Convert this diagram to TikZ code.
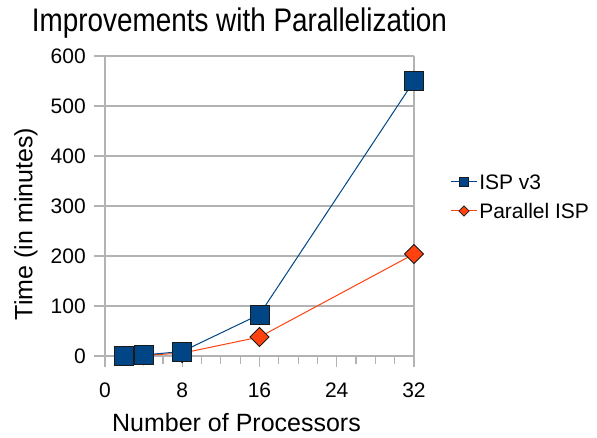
\documentclass[tikz,border=0pt]{standalone}
\usepackage{fontspec}
\setmainfont{Liberation Sans}
\usetikzlibrary{shapes.geometric}
\definecolor{ispblue}{HTML}{004586}
\definecolor{parorange}{HTML}{FF420E}
\definecolor{gridgray}{HTML}{B3B3B3}
\definecolor{markborder}{HTML}{1A1A1A}
\begin{document}
\begin{tikzpicture}[x=0.75pt,y=-0.75pt,
  gridline/.style={draw=gridgray, line width=0.9pt},
  sq/.style={rectangle, draw=markborder, fill=ispblue, minimum size=14.25pt, inner sep=0pt, line width=0.6pt},
  dm/.style={diamond, draw=markborder, fill=parorange, minimum size=14.5pt, inner sep=0pt, line width=0.6pt},
  lsq/.style={sq, minimum size=7pt},
  ldm/.style={dm, minimum size=8pt},
  ispline/.style={draw=ispblue, line width=0.75pt},
  parline/.style={draw=parorange, line width=0.75pt},
  ticklab/.style={font=\fontsize{15.75pt}{18pt}\selectfont, inner sep=0pt},
  axlab/.style={font=\fontsize{18.75pt}{22pt}\selectfont, inner sep=0pt},
  titlelab/.style={font=\fontsize{24.5pt}{28pt}\selectfont, inner sep=0pt}]
\useasboundingbox[fill=white] (0,0) rectangle (597,438);

% title
\node[titlelab, anchor=base] (title) at (239.5,32) {\scalebox{0.853}[1]{Improvements with Parallelization}};

% horizontal grid lines and y labels
\foreach \v in {0,...,6} {
  \pgfmathsetmacro{\yy}{356-50*\v}
  \draw[gridline] (94,\yy) -- (414,\yy);
}
\foreach \v/\t in {0/0,1/100,2/200,3/300,4/400,5/500,6/600} {
  \pgfmathsetmacro{\yy}{356-50*\v}
  \node[ticklab, anchor=east] (ylab\v) at (86,\yy) {\t};
}
% axis and right border
\draw[gridline] (105,56) -- (105,367);
\draw[gridline] (414,56) -- (414,367);
% x ticks
\foreach \i in {2,4,6,10,12,14,18,20,22,26,28,30} {
  \pgfmathsetmacro{\xx}{105+9.656*\i}
  \draw[gridline] (\xx,356) -- (\xx,364);
}
\foreach \i in {8,16,24} {
  \pgfmathsetmacro{\xx}{105+9.656*\i}
  \draw[gridline] (\xx,356) -- (\xx,367);
}
\foreach \i in {0,8,16,24,32} {
  \pgfmathsetmacro{\xx}{105+9.656*\i}
  \node[ticklab] (xlab\i) at (\xx,390) {\i};
}

% axis titles
\node[axlab] (xtitle) at (236.5,422.5) {Number of Processors};
\node[axlab, rotate=90] (ytitle) at (26,224) {Time (in minutes)};

% data points
\coordinate (i1) at (124.3,355.5);
\coordinate (i2) at (143.6,355);
\coordinate (i3) at (182.2,351.5);
\coordinate (i4) at (259.5,314.5);
\coordinate (i5) at (414,81);
\coordinate (p1) at (124.3,355.8);
\coordinate (p2) at (143.6,355.3);
\coordinate (p3) at (182.2,353.2);
\coordinate (p4) at (259.5,337);
\coordinate (p5) at (414,254);

\draw[parline] (p1) -- (p2) -- (p3) -- (p4) -- (p5);
\draw[ispline] (i1) -- (i2) -- (i3) -- (i4) -- (i5);
\foreach \k in {1,...,5} { \node[dm] (pm\k) at (p\k) {}; }
\foreach \k in {1,...,5} { \node[sq] (im\k) at (i\k) {}; }

% legend
\coordinate (la1) at (451,182);
\coordinate (lb1) at (477,182);
\coordinate (la2) at (451,211);
\coordinate (lb2) at (477,211);
\draw[ispline] (la1) -- (lb1);
\draw[parline] (la2) -- (lb2);
\node[lsq] (lm1) at (464,182) {};
\node[ldm] (lm2) at (464,211) {};
\node[ticklab, anchor=west] (lt1) at (479,182) {ISP v3};
\node[ticklab, anchor=west] (lt2) at (479,211) {Parallel ISP};
\end{tikzpicture}
\end{document}
